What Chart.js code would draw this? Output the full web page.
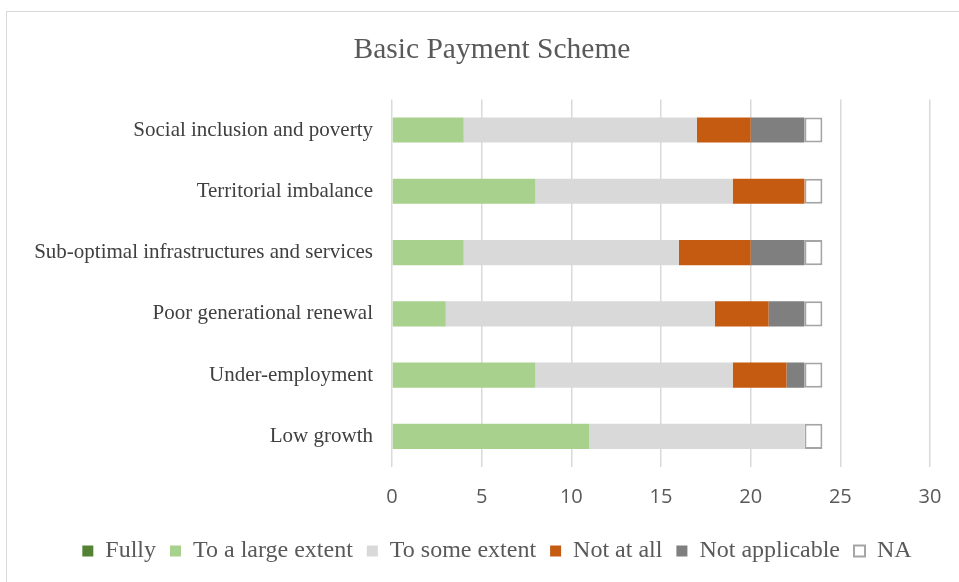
<!DOCTYPE html>
<html>
<head>
<meta charset="utf-8">
<title>Basic Payment Scheme</title>
<script src="https://cdn.jsdelivr.net/npm/chart.js@4.4.0/dist/chart.umd.min.js"></script>
<style>
html, body { margin: 0; padding: 0; background: #fff; overflow: hidden; }
#marco { position: absolute; left: 6px; top: 11px; width: 972px; height: 580px; border: 1px solid #d9d9d9; }
#grafico { display: block; }
</style>
</head>
<body>
<div id="marco"><canvas id="grafico" width="970" height="578"></canvas></div>
<script>
// categorias de arriba hacia abajo
var categorias = ['Social inclusion and poverty', 'Territorial imbalance', 'Sub-optimal infrastructures and services',
	'Poor generational renewal', 'Under-employment', 'Low growth'];

var fully         = [0, 0, 0, 0, 0, 0];
var largeExtent   = [4, 8, 4, 3, 8, 11];
var someExtent    = [13, 11, 12, 15, 11, 12];
var notAtAll      = [3, 4, 4, 3, 3, 0];
var notApplicable = [3, 0, 3, 2, 1, 0];
var na            = [1, 1, 1, 1, 1, 1];

var ticksX = [0, 5, 10, 15, 20, 25, 30];

var serif = '"Liberation Serif", "Times New Roman", serif';
var sans = '"Open Sans", "Liberation Sans", sans-serif';

function serie(nombre, datos, color, borde){
	return {
		label: nombre,
		data: datos,
		backgroundColor: color,
		borderColor: borde || color,
		borderWidth: borde ? 2 : 0,
		borderSkipped: false,
		barPercentage: 0.41,
		categoryPercentage: 1
	};
}

// titulo y leyenda centrados sobre el marco, no sobre el lienzo recortado
var centrarCajas = {
	id: 'centrarCajas',
	afterLayout: function(chart){
		if (chart.titleBlock) chart.titleBlock.left = 47;
		if (chart.legend) chart.legend.left = 57;
	}
};

new Chart(document.getElementById('grafico'), {
	type: 'bar',
	data: {
		labels: categorias,
		datasets: [
			serie('Fully', fully, '#548235'),
			serie('To a large extent', largeExtent, '#a9d18e'),
			serie('To some extent', someExtent, '#d9d9d9'),
			serie('Not at all', notAtAll, '#c55a11'),
			serie('Not applicable', notApplicable, '#7f7f7f'),
			serie('NA', na, '#ffffff', '#a5a5a5')
		]
	},
	plugins: [centrarCajas],
	options: {
		indexAxis: 'y',
		responsive: false,
		animation: false,
		layout: { padding: { left: 0, right: 47, top: 0, bottom: 17 } },
		plugins: {
			title: {
				display: true,
				text: 'Basic Payment Scheme',
				color: '#595959',
				font: { family: serif, size: 29.5, weight: 'normal' },
				padding: { top: 21, bottom: 31 }
			},
			legend: {
				position: 'bottom',
				labels: {
					color: '#595959',
					font: { family: serif, size: 24 },
					boxWidth: 11,
					boxHeight: 11,
					padding: 14
				}
			},
			tooltip: { enabled: false }
		},
		scales: {
			x: {
				stacked: true,
				min: 0,
				max: 30,
				afterBuildTicks: function(eje){
					eje.ticks = ticksX.map(function(v){ return { value: v }; });
				},
				afterFit: function(eje){ eje.height = 58; },
				grid: { color: '#d9d9d9', lineWidth: 1.5, drawTicks: false },
				border: { display: false },
				ticks: { color: '#595959', padding: 18, font: { family: sans, size: 20 } }
			},
			y: {
				stacked: true,
				afterFit: function(eje){ eje.width = 385; },
				grid: { display: false },
				border: { display: false },
				ticks: { color: '#404040', padding: 11, font: { family: serif, size: 21 } }
			}
		}
	}
});
</script>
</body>
</html>
